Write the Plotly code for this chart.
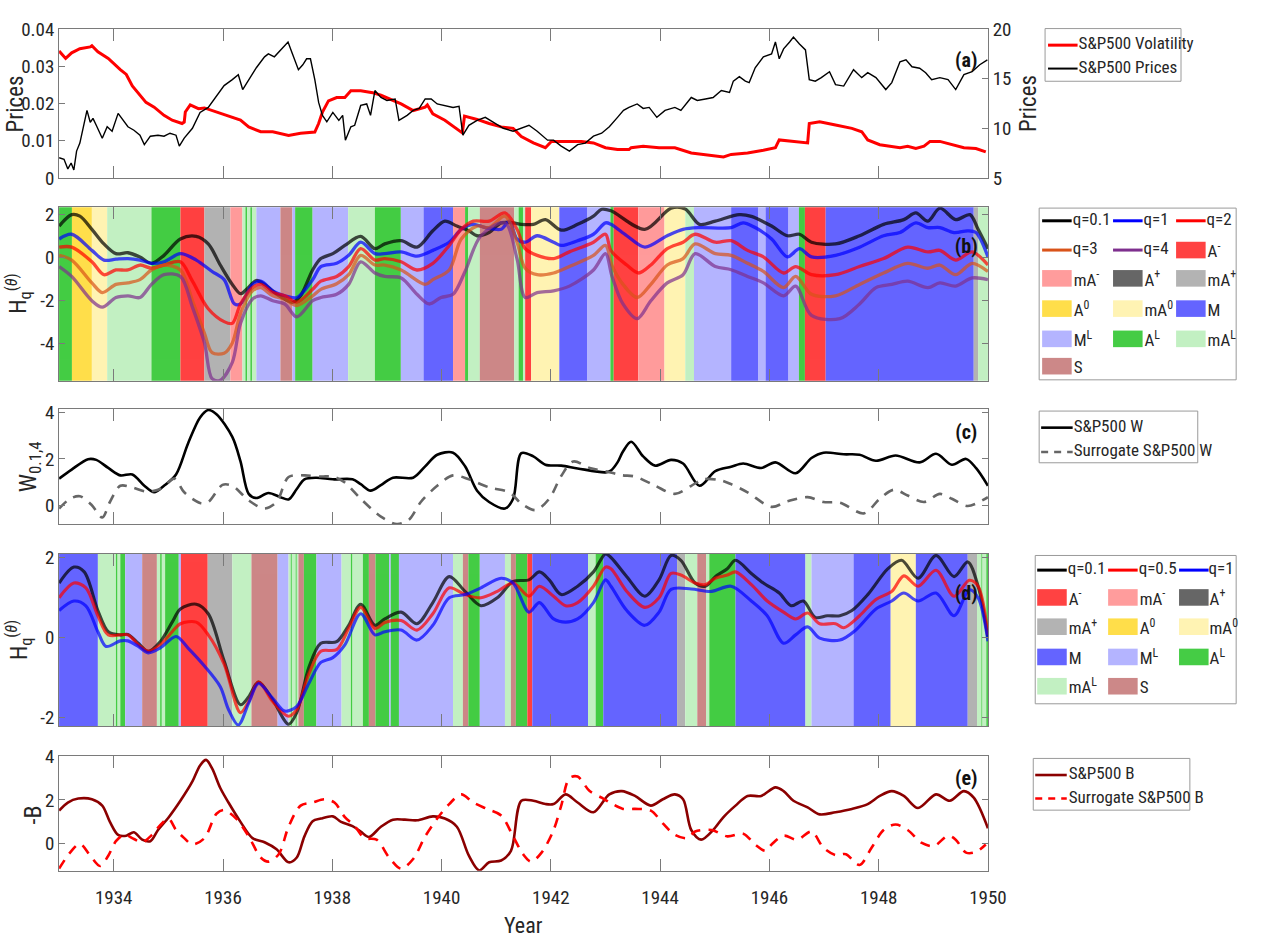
import plotly.graph_objects as go

# ---------------------------------------------------------------- data
# (a) S&P500 volatility (left axis) and prices (right axis)
vol_year = [1933.00, 1933.12, 1933.23, 1933.38, 1933.57, 1933.60, 1933.71, 1933.90, 1934.12, 1934.23,
            1934.34, 1934.48, 1934.59, 1934.74, 1934.92, 1935.07, 1935.25, 1935.29, 1935.31, 1935.40,
            1935.55, 1935.66, 1935.88, 1936.10, 1936.32, 1936.47, 1936.69, 1936.91, 1937.20, 1937.42,
            1937.68, 1937.75, 1937.82, 1937.93, 1938.08, 1938.23, 1938.34, 1938.52, 1938.74, 1938.89,
            1939.04, 1939.26, 1939.48, 1939.70, 1939.74, 1939.84, 1940.06, 1940.38, 1940.42, 1940.65,
            1940.87, 1941.09, 1941.31, 1941.46, 1941.68, 1941.90, 1942.01, 1942.19, 1942.56, 1942.78,
            1943.00, 1943.22, 1943.43, 1943.47, 1943.69, 1943.98, 1944.27, 1944.57, 1944.86, 1945.16,
            1945.30, 1945.60, 1945.89, 1946.11, 1946.18, 1946.40, 1946.70, 1946.73, 1946.92, 1947.21,
            1947.51, 1947.69, 1947.80, 1948.02, 1948.17, 1948.39, 1948.53, 1948.68, 1948.83, 1948.94,
            1949.12, 1949.34, 1949.56, 1949.78, 1949.96]
vol_val = [0.0341, 0.0321, 0.0336, 0.0347, 0.0352, 0.0355, 0.0339, 0.0321, 0.0291, 0.0278,
           0.0247, 0.0222, 0.0203, 0.0190, 0.0168, 0.0155, 0.0146, 0.0150, 0.0177, 0.0196,
           0.0186, 0.0188, 0.0177, 0.0168, 0.0155, 0.0137, 0.0124, 0.0124, 0.0114, 0.0120,
           0.0123, 0.0146, 0.0177, 0.0207, 0.0216, 0.0216, 0.0234, 0.0234, 0.0229, 0.0222,
           0.0212, 0.0199, 0.0181, 0.0190, 0.0196, 0.0172, 0.0155, 0.0121, 0.0166, 0.0157,
           0.0146, 0.0137, 0.0133, 0.0111, 0.0094, 0.0081, 0.0098, 0.0098, 0.0098, 0.0094,
           0.0081, 0.0076, 0.0076, 0.0081, 0.0085, 0.0081, 0.0081, 0.0067, 0.0061, 0.0056,
           0.0063, 0.0067, 0.0074, 0.0081, 0.0102, 0.0098, 0.0094, 0.0146, 0.0151, 0.0142,
           0.0133, 0.0124, 0.0102, 0.0089, 0.0085, 0.0081, 0.0085, 0.0079, 0.0085, 0.0098,
           0.0098, 0.0089, 0.0081, 0.0079, 0.0070]

price_year = [1933.00, 1933.09, 1933.16, 1933.22, 1933.27, 1933.32, 1933.38, 1933.46, 1933.51, 1933.57,
              1933.62, 1933.68, 1933.79, 1933.88, 1933.97, 1934.08, 1934.15, 1934.26, 1934.37, 1934.48,
              1934.56, 1934.67, 1934.81, 1934.92, 1935.03, 1935.14, 1935.20, 1935.29, 1935.44, 1935.58,
              1935.73, 1935.88, 1936.02, 1936.17, 1936.28, 1936.36, 1936.50, 1936.61, 1936.76, 1936.83,
              1936.94, 1937.05, 1937.19, 1937.27, 1937.38, 1937.46, 1937.53, 1937.60, 1937.68, 1937.75,
              1937.82, 1937.90, 1938.01, 1938.12, 1938.19, 1938.24, 1938.34, 1938.41, 1938.52, 1938.63,
              1938.70, 1938.78, 1938.89, 1939.00, 1939.15, 1939.22, 1939.37, 1939.48, 1939.59, 1939.70,
              1939.81, 1939.92, 1940.06, 1940.21, 1940.32, 1940.39, 1940.50, 1940.65, 1940.80, 1940.94,
              1941.13, 1941.31, 1941.46, 1941.60, 1941.75, 1941.94, 1942.05, 1942.19, 1942.34, 1942.49,
              1942.63, 1942.78, 1942.93, 1943.07, 1943.22, 1943.33, 1943.43, 1943.58, 1943.69, 1943.80,
              1943.94, 1944.09, 1944.27, 1944.38, 1944.57, 1944.68, 1944.83, 1944.97, 1945.12, 1945.27,
              1945.34, 1945.45, 1945.56, 1945.63, 1945.74, 1945.89, 1946.04, 1946.11, 1946.18, 1946.26,
              1946.37, 1946.44, 1946.55, 1946.66, 1946.73, 1946.84, 1946.95, 1947.10, 1947.21, 1947.36,
              1947.54, 1947.69, 1947.80, 1947.95, 1948.13, 1948.24, 1948.39, 1948.50, 1948.61, 1948.75,
              1948.86, 1948.97, 1949.12, 1949.27, 1949.41, 1949.56, 1949.71, 1949.85, 1949.99]
price_val = [7.03, 6.87, 5.90, 6.50, 5.80, 7.70, 8.50, 10.65, 11.80, 10.60,
             11.00, 10.30, 9.00, 10.15, 9.70, 11.50, 11.00, 10.15, 9.80, 9.30,
             8.35, 9.20, 9.30, 9.20, 9.50, 9.30, 8.20, 9.00, 10.00, 11.60,
             12.10, 13.30, 14.30, 14.90, 15.40, 13.90, 15.10, 16.10, 17.20, 17.50,
             17.20, 17.90, 18.70, 17.50, 15.90, 16.40, 17.00, 17.00, 14.90, 12.60,
             11.30, 10.65, 11.60, 10.80, 11.30, 8.80, 10.15, 10.30, 12.30, 12.45,
             11.30, 13.80, 13.10, 12.80, 12.95, 10.80, 11.30, 11.80, 12.00, 12.95,
             12.95, 12.45, 12.30, 12.10, 12.20, 9.30, 10.30, 10.80, 11.10, 10.65,
             10.00, 9.70, 10.00, 10.30, 9.70, 8.80, 8.80, 8.20, 7.70, 8.35,
             8.50, 9.20, 9.50, 10.15, 11.10, 11.80, 12.10, 12.45, 12.00, 12.10,
             11.10, 11.80, 12.10, 11.80, 13.10, 12.80, 12.95, 13.10, 13.80, 13.60,
             14.75, 15.20, 14.75, 14.60, 16.10, 17.20, 17.50, 18.70, 17.00, 18.00,
             18.70, 19.20, 18.50, 17.90, 14.90, 14.75, 15.10, 15.70, 14.40, 14.25,
             15.90, 15.10, 15.60, 15.10, 13.90, 14.60, 16.70, 16.90, 16.20, 16.05,
             15.60, 14.90, 15.10, 14.90, 13.90, 15.40, 15.70, 16.40, 16.90]

# (b) generalised Hurst exponents of the prices
hb01_year = [1933.00, 1933.23, 1933.38, 1933.60, 1933.82, 1934.04, 1934.26, 1934.48, 1934.69, 1934.92,
             1935.22, 1935.51, 1935.73, 1935.95, 1936.17, 1936.32, 1936.43, 1936.61, 1936.76, 1936.98,
             1937.13, 1937.27, 1937.42, 1937.64, 1937.79, 1938.01, 1938.23, 1938.52, 1938.78, 1938.96,
             1939.26, 1939.55, 1939.84, 1940.06, 1940.28, 1940.50, 1940.65, 1940.87, 1941.09, 1941.31,
             1941.46, 1941.68, 1941.90, 1942.19, 1942.49, 1942.78, 1942.93, 1943.10, 1943.72, 1944.20,
             1944.46, 1944.72, 1945.01, 1945.45, 1945.67, 1946.04, 1946.33, 1946.55, 1946.77, 1947.21,
             1947.65, 1948.09, 1948.46, 1948.68, 1948.90, 1949.12, 1949.41, 1949.67, 1949.82, 1950.00]
hb01_val = [1.44, 1.97, 1.90, 1.29, 0.61, 0.16, 0.20, 0.00, -0.29, 0.08,
            0.84, 0.96, 0.61, -0.37, -1.27, -1.70, -1.50, -1.09, -1.27, -1.72,
            -1.95, -2.10, -1.80, -0.60, -0.07, 0.16, 0.54, 0.96, 0.39, 0.61,
            0.76, 0.46, 1.22, 1.67, 1.44, 1.22, 0.99, 1.14, 1.59, 1.59,
            1.52, 1.52, 1.74, 1.25, 1.52, 1.90, 2.22, 2.15, 1.29, 2.27,
            2.23, 1.52, 1.67, 1.97, 1.89, 1.44, 0.99, 1.06, 0.69, 0.61,
            0.99, 1.52, 1.74, 2.05, 1.67, 2.27, 1.74, 1.97, 1.29, 0.39]

hb1_year = [1933.00, 1933.23, 1933.60, 1933.82, 1934.04, 1934.26, 1934.48, 1934.69, 1934.92, 1935.22,
            1935.51, 1935.80, 1936.02, 1936.21, 1936.32, 1936.54, 1936.69, 1936.91, 1937.13, 1937.35,
            1937.64, 1937.79, 1938.08, 1938.30, 1938.52, 1938.78, 1938.96, 1939.26, 1939.55, 1939.84,
            1940.14, 1940.36, 1940.58, 1940.80, 1941.09, 1941.24, 1941.38, 1941.53, 1941.75, 1942.05,
            1942.19, 1942.49, 1942.78, 1943.00, 1943.10, 1943.39, 1943.72, 1944.13, 1944.42, 1944.72,
            1945.30, 1945.52, 1945.74, 1946.04, 1946.33, 1946.55, 1946.77, 1947.21, 1947.65, 1948.09,
            1948.39, 1948.68, 1948.90, 1949.12, 1949.38, 1949.63, 1949.78, 1950.00]
hb1_val = [0.84, 1.06, 0.31, -0.14, -0.10, -0.07, -0.14, -0.29, -0.22, 0.16,
           -0.14, -0.67, -1.05, -2.18, -2.18, -1.27, -1.12, -1.57, -1.80, -1.88,
           -1.05, -0.44, -0.29, 0.08, 0.69, 0.16, 0.16, 0.24, 0.04, 0.31,
           0.69, 1.29, 1.52, 1.37, 1.29, 1.67, 0.84, 0.69, 0.99, 0.69,
           0.54, 0.76, 1.06, 1.59, 1.52, 0.99, 0.46, 0.99, 1.29, 1.37,
           1.37, 1.59, 1.37, 0.84, 0.01, 0.39, 0.01, 0.08, 0.46, 0.99,
           1.14, 1.59, 1.37, 1.37, 1.14, 1.22, 1.14, 0.01]

hb2_year = [1933.00, 1933.23, 1933.60, 1933.82, 1934.04, 1934.26, 1934.48, 1934.69, 1934.92, 1935.22,
            1935.44, 1935.73, 1936.02, 1936.17, 1936.32, 1936.54, 1936.69, 1936.91, 1937.13, 1937.35,
            1937.64, 1937.79, 1938.08, 1938.30, 1938.52, 1938.78, 1938.96, 1939.26, 1939.55, 1939.84,
            1940.14, 1940.36, 1940.58, 1940.87, 1941.16, 1941.38, 1941.53, 1941.75, 1942.05, 1942.34,
            1942.78, 1943.00, 1943.10, 1943.39, 1943.61, 1943.83, 1944.13, 1944.42, 1944.64, 1945.01,
            1945.30, 1945.60, 1945.89, 1946.26, 1946.48, 1946.77, 1947.21, 1947.65, 1948.09, 1948.53,
            1948.90, 1949.12, 1949.41, 1949.71, 1950.00]
hb2_val = [0.46, 0.46, -0.22, -0.82, -0.60, -0.60, -0.37, -0.52, -0.37, -0.22,
           -1.12, -2.40, -3.00, -3.08, -2.18, -1.42, -1.27, -1.65, -1.80, -2.10,
           -1.50, -1.12, -0.90, -0.44, 0.39, -0.14, -0.07, -0.22, -0.60, -0.29,
           0.54, 1.29, 1.67, 1.67, 2.05, 1.29, 0.39, 0.08, -0.07, 0.24,
           0.69, 1.06, 0.30, -0.37, -0.74, -0.37, 0.39, 0.69, 1.06, 0.69,
           0.76, 0.31, 0.01, -0.74, -0.44, -0.82, -0.82, -0.44, -0.07, 0.46,
           0.24, 0.31, -0.14, 0.24, -0.37]

hb3_year = [1933.00, 1933.23, 1933.60, 1933.79, 1934.04, 1934.26, 1934.48, 1934.69, 1934.92, 1935.22,
            1935.44, 1935.66, 1935.80, 1936.02, 1936.17, 1936.32, 1936.54, 1936.69, 1936.91, 1937.13,
            1937.35, 1937.64, 1937.79, 1938.08, 1938.30, 1938.52, 1938.78, 1938.96, 1939.26, 1939.70,
            1939.84, 1940.14, 1940.36, 1940.65, 1940.87, 1941.16, 1941.38, 1941.53, 1941.75, 1942.05,
            1942.34, 1942.78, 1943.00, 1943.12, 1943.32, 1943.58, 1943.83, 1944.13, 1944.42, 1944.64,
            1945.01, 1945.30, 1945.60, 1945.89, 1946.26, 1946.48, 1946.77, 1947.21, 1947.65, 1948.09,
            1948.53, 1948.90, 1949.12, 1949.41, 1949.71, 1950.00]
hb3_val = [0.08, -0.14, -1.20, -1.65, -1.27, -1.20, -1.05, -0.60, -0.37, -0.60,
           -2.03, -3.54, -4.44, -4.47, -3.99, -2.63, -1.57, -1.42, -1.80, -1.95,
           -2.25, -1.80, -1.50, -1.24, -0.82, 0.08, -0.37, -0.37, -0.60, -1.27,
           -1.05, -0.60, 0.84, 1.44, 1.37, 1.90, 0.69, -0.52, -0.82, -0.74,
           -0.44, 0.08, 0.54, -0.40, -1.27, -1.88, -1.27, -0.37, -0.07, 0.61,
           0.16, 0.08, -0.29, -0.67, -1.42, -0.90, -1.73, -1.80, -1.27, -0.74,
           -0.29, -0.52, -0.37, -0.82, -0.29, -0.67]

hb4_year = [1933.00, 1933.23, 1933.60, 1933.79, 1934.04, 1934.26, 1934.48, 1934.69, 1934.92, 1935.22,
            1935.44, 1935.66, 1935.80, 1935.95, 1936.17, 1936.32, 1936.54, 1936.69, 1936.91, 1937.13,
            1937.35, 1937.64, 1937.79, 1938.08, 1938.30, 1938.52, 1938.78, 1938.96, 1939.26, 1939.55,
            1939.77, 1939.99, 1940.21, 1940.43, 1940.72, 1941.16, 1941.38, 1941.53, 1941.75, 1942.05,
            1942.34, 1942.78, 1943.00, 1943.12, 1943.32, 1943.58, 1943.83, 1944.13, 1944.42, 1944.64,
            1945.01, 1945.30, 1945.60, 1945.89, 1946.26, 1946.48, 1946.77, 1947.29, 1947.65, 1947.95,
            1948.24, 1948.53, 1948.90, 1949.12, 1949.41, 1949.71, 1950.00]
hb4_val = [-0.44, -0.90, -2.03, -2.33, -1.88, -1.80, -1.88, -1.27, -0.82, -0.90,
           -2.33, -3.99, -5.65, -5.72, -4.89, -3.08, -1.95, -1.80, -2.03, -2.18,
           -2.78, -2.03, -1.88, -1.73, -1.27, -0.22, -0.74, -0.90, -0.97, -1.73,
           -2.18, -1.88, -1.73, -0.67, 0.99, 1.59, -0.07, -1.88, -1.65, -1.57,
           -1.35, -0.60, 0.16, -0.90, -2.18, -2.86, -2.03, -1.20, -0.82, 0.16,
           -0.44, -0.59, -0.90, -1.20, -1.80, -1.35, -2.71, -2.86, -2.18, -1.42,
           -1.27, -1.12, -1.42, -1.20, -1.35, -0.97, -1.05]

# (b) market-state segments
b_seg_start = [1933.00, 1933.235, 1933.60, 1933.88, 1934.69, 1935.22, 1935.66, 1936.135, 1936.355, 1936.41,
               1936.44, 1936.50, 1936.53, 1936.61, 1937.05, 1937.27, 1937.32, 1937.64, 1938.29, 1938.78,
               1939.255, 1939.67, 1940.21, 1940.43, 1940.49, 1940.70, 1941.33, 1941.41, 1941.49, 1941.53,
               1941.64, 1942.155, 1942.67, 1943.09, 1943.15, 1943.60, 1944.08, 1944.46, 1944.62, 1945.30,
               1945.80, 1945.93, 1946.35, 1946.54, 1946.65, 1947.03, 1949.74, 1949.82]
b_seg_end = b_seg_start[1:] + [1950.00]
b_seg_state = ['AL', 'A0', 'mA0', 'mAL', 'AL', 'A-', 'mA+', 'mA-', 'mAL', 'AL',
               'mAL', 'AL', 'mAL', 'ML', 'S', 'ML', 'AL', 'ML', 'mAL', 'AL',
               'ML', 'M', 'mA-', 'AL', 'mAL', 'S', 'mAL', 'AL', 'mAL', 'A-',
               'mA0', 'M', 'ML', 'AL', 'A-', 'mA-', 'mA0', 'mAL', 'ML', 'M',
               'ML', 'M', 'ML', 'AL', 'A-', 'M', 'mA+', 'mAL']

# (c) W statistic and its surrogate
w_year = [1933.00, 1933.23, 1933.53, 1933.68, 1933.90, 1934.12, 1934.34, 1934.56, 1934.74, 1934.92,
          1935.14, 1935.36, 1935.58, 1935.73, 1935.88, 1936.17, 1936.32, 1936.47, 1936.61, 1936.83,
          1937.05, 1937.20, 1937.35, 1937.49, 1937.71, 1938.01, 1938.37, 1938.52, 1938.70, 1938.89,
          1939.11, 1939.48, 1939.70, 1939.92, 1940.21, 1940.43, 1940.65, 1940.87, 1941.16, 1941.31,
          1941.46, 1941.68, 1941.90, 1942.19, 1942.49, 1943.00, 1943.10, 1943.22, 1943.32, 1943.47,
          1943.69, 1943.91, 1944.20, 1944.42, 1944.72, 1945.01, 1945.30, 1945.52, 1945.85, 1946.11,
          1946.48, 1946.77, 1946.99, 1947.36, 1947.65, 1947.95, 1948.31, 1948.75, 1949.05, 1949.34,
          1949.60, 1949.78, 1950.00]
w_val = [1.15, 1.54, 1.99, 1.96, 1.61, 1.29, 1.33, 0.84, 0.56, 0.84,
         1.33, 2.67, 3.79, 4.11, 3.93, 2.95, 1.89, 0.49, 0.31, 0.53,
         0.35, 0.25, 0.70, 1.12, 1.19, 1.12, 1.12, 0.91, 0.63, 0.87,
         1.19, 1.19, 1.68, 2.18, 2.27, 1.68, 0.63, 0.14, -0.14, 0.28,
         2.25, 2.11, 1.75, 1.71, 1.59, 1.42, 1.50, 1.85, 2.32, 2.74,
         2.11, 1.71, 1.96, 1.80, 0.84, 1.47, 1.66, 1.80, 1.61, 1.85,
         1.38, 2.04, 2.27, 2.20, 2.18, 1.92, 2.15, 1.85, 2.22, 1.75,
         2.00, 1.61, 0.84]

w_sur_year = [1933.00, 1933.20, 1933.38, 1933.60, 1933.79, 1933.93, 1934.12, 1934.34, 1934.59, 1934.85,
              1935.11, 1935.29, 1935.58, 1935.73, 1935.99, 1936.17, 1936.47, 1936.76, 1936.98, 1937.20,
              1937.49, 1937.79, 1938.01, 1938.23, 1938.52, 1938.89, 1939.18, 1939.40, 1939.62, 1939.92,
              1940.21, 1940.50, 1940.87, 1941.24, 1941.46, 1941.72, 1941.97, 1942.19, 1942.41, 1942.71,
              1943.00, 1943.29, 1943.54, 1943.91, 1944.27, 1944.57, 1944.79, 1945.08, 1945.30, 1945.60,
              1946.04, 1946.33, 1946.70, 1946.99, 1947.29, 1947.73, 1948.02, 1948.28, 1948.53, 1948.83,
              1949.12, 1949.34, 1949.63, 1950.00]
w_sur_val = [-0.14, 0.28, 0.39, 0.00, -0.53, 0.14, 0.84, 0.77, 0.59, 0.70,
             1.15, 0.56, 0.10, 0.14, 0.88, 0.84, 0.21, -0.14, 0.14, 1.22,
             1.29, 1.24, 1.24, 0.98, 0.28, -0.49, -0.81, -0.63, 0.14, 0.84,
             1.29, 1.12, 0.77, 0.56, 0.07, -0.21, 0.28, 1.26, 1.89, 1.61,
             1.47, 1.30, 1.24, 0.84, 0.49, 0.84, 1.12, 1.09, 0.91, 0.56,
             -0.07, 0.17, 0.35, 0.14, 0.11, -0.35, 0.28, 0.67, 0.42, 0.14,
             0.49, 0.28, -0.03, 0.35]

# (d) generalised Hurst exponents of the volatility
hd01_year = [1933.00, 1933.27, 1933.46, 1933.71, 1933.90, 1934.12, 1934.26, 1934.45, 1934.63, 1934.85,
             1935.07, 1935.22, 1935.51, 1935.73, 1936.02, 1936.32, 1936.47, 1936.65, 1936.91, 1937.20,
             1937.35, 1937.57, 1937.79, 1938.08, 1938.30, 1938.52, 1938.78, 1938.96, 1939.26, 1939.55,
             1939.84, 1940.14, 1940.43, 1940.72, 1941.02, 1941.31, 1941.60, 1941.79, 1941.97, 1942.19,
             1942.49, 1942.78, 1943.00, 1943.10, 1943.39, 1943.72, 1943.98, 1944.20, 1944.38, 1944.64,
             1944.83, 1945.01, 1945.23, 1945.38, 1945.67, 1945.89, 1946.18, 1946.40, 1946.62, 1946.84,
             1947.06, 1947.29, 1947.51, 1947.80, 1948.17, 1948.42, 1948.72, 1949.05, 1949.38, 1949.63,
             1949.82, 1950.00]
hd01_val = [1.36, 1.76, 1.64, 0.67, 0.14, 0.06, 0.07, -0.15, -0.35, -0.11,
            0.38, 0.71, 0.83, 0.59, -0.59, -1.69, -1.49, -1.12, -1.57, -2.18,
            -1.89, -0.76, -0.15, -0.11, 0.30, 0.83, 0.30, 0.46, 0.63, 0.34,
            0.87, 1.52, 1.15, 0.79, 0.99, 1.40, 1.44, 1.64, 1.44, 1.07,
            1.28, 1.64, 2.09, 2.00, 1.52, 1.03, 1.44, 2.05, 1.93, 1.36,
            1.28, 1.52, 1.72, 1.93, 1.60, 1.36, 1.11, 0.79, 0.91, 0.50,
            0.54, 0.54, 0.67, 1.07, 1.72, 1.93, 1.48, 2.05, 1.52, 1.89,
            1.28, -0.02]

hd05_year = [1933.00, 1933.27, 1933.49, 1933.71, 1933.90, 1934.26, 1934.45, 1934.63, 1934.85, 1935.07,
             1935.22, 1935.51, 1935.73, 1936.02, 1936.32, 1936.47, 1936.65, 1936.91, 1937.20, 1937.35,
             1937.57, 1937.79, 1938.08, 1938.30, 1938.52, 1938.78, 1938.96, 1939.26, 1939.55, 1939.84,
             1940.14, 1940.43, 1940.72, 1941.02, 1941.31, 1941.60, 1941.79, 1942.05, 1942.27, 1942.49,
             1942.78, 1943.00, 1943.10, 1943.39, 1943.72, 1943.98, 1944.20, 1944.38, 1944.64, 1944.83,
             1945.01, 1945.23, 1945.38, 1945.67, 1945.96, 1946.26, 1946.48, 1946.70, 1946.92, 1947.21,
             1947.36, 1947.65, 1947.95, 1948.24, 1948.46, 1948.72, 1949.05, 1949.38, 1949.66, 1949.82,
             1950.00]
hd05_val = [0.99, 1.36, 1.24, 0.54, 0.06, 0.06, -0.19, -0.35, -0.19, 0.14,
            0.34, 0.38, 0.06, -0.67, -1.89, -1.61, -1.12, -1.61, -1.98, -1.81,
            -0.92, -0.35, -0.31, 0.22, 0.75, 0.22, 0.37, 0.42, 0.18, 0.59,
            1.24, 1.07, 0.99, 1.15, 1.36, 1.03, 1.28, 1.03, 0.79, 0.87,
            1.28, 1.76, 1.72, 1.15, 0.75, 0.99, 1.60, 1.56, 1.36, 1.32,
            1.48, 1.56, 1.64, 1.32, 0.91, 0.63, 0.46, 0.61, 0.34, 0.34,
            0.24, 0.54, 0.95, 1.15, 1.54, 1.28, 1.68, 1.03, 1.43, 1.28,
            0.06]

hd1_year = [1933.00, 1933.27, 1933.49, 1933.71, 1933.86, 1934.12, 1934.26, 1934.45, 1934.63, 1934.85,
            1935.14, 1935.36, 1935.66, 1935.95, 1936.10, 1936.28, 1936.47, 1936.65, 1936.91, 1937.13,
            1937.35, 1937.57, 1937.79, 1938.01, 1938.23, 1938.52, 1938.78, 1938.96, 1939.26, 1939.55,
            1939.84, 1940.14, 1940.43, 1940.72, 1941.09, 1941.31, 1941.60, 1941.79, 1942.05, 1942.27,
            1942.49, 1942.78, 1943.00, 1943.10, 1943.39, 1943.72, 1943.98, 1944.20, 1944.57, 1944.94,
            1945.30, 1945.67, 1945.96, 1946.26, 1946.48, 1946.70, 1946.92, 1947.29, 1947.58, 1947.95,
            1948.24, 1948.46, 1948.72, 1949.05, 1949.38, 1949.66, 1949.82, 1950.00]
hd1_val = [0.67, 0.91, 0.79, 0.14, -0.23, -0.09, -0.09, -0.23, -0.39, -0.27,
           0.02, -0.27, -0.72, -1.24, -1.81, -2.20, -1.65, -1.16, -1.53, -1.85,
           -1.73, -1.16, -0.63, -0.51, -0.19, 0.59, 0.06, 0.14, 0.18, -0.07,
           0.30, 0.99, 1.07, 1.24, 1.48, 1.36, 0.63, 0.87, 0.46, 0.38,
           0.46, 0.87, 1.44, 1.28, 0.67, 0.30, 0.63, 1.20, 1.21, 1.15,
           1.28, 0.91, 0.54, -0.15, 0.06, 0.26, -0.02, -0.07, 0.18, 0.71,
           0.91, 1.11, 0.91, 1.11, 0.54, 1.19, 0.99, -0.10]

# (d) market-state segments
d_seg_start = [1933.00, 1933.71, 1934.04, 1934.07, 1934.12, 1934.21, 1934.52, 1934.79, 1934.85, 1934.88,
               1934.94, 1935.19, 1935.23, 1935.72, 1936.17, 1936.52, 1937.00, 1937.20, 1937.24, 1937.26,
               1937.33, 1937.35, 1937.38, 1937.48, 1937.71, 1938.17, 1938.34, 1938.37, 1938.56, 1938.67,
               1938.79, 1939.04, 1939.07, 1939.22, 1940.21, 1940.39, 1940.49, 1940.70, 1941.16, 1941.27,
               1941.36, 1941.57, 1941.66, 1942.68, 1942.82, 1942.96, 1944.31, 1944.46, 1944.68, 1944.84,
               1944.90, 1945.38, 1946.66, 1946.77, 1947.54, 1948.22, 1948.68, 1949.63, 1949.80, 1949.88,
               1949.90, 1949.97]
d_seg_end = d_seg_start[1:] + [1950.00]
d_seg_state = ['M', 'mAL', 'AL', 'mAL', 'AL', 'ML', 'S', 'mAL', 'AL', 'mAL',
               'AL', 'ML', 'A-', 'mA+', 'mAL', 'S', 'ML', 'mAL', 'AL', 'mAL',
               'AL', 'mAL', 'S', 'AL', 'ML', 'mAL', 'AL', 'mAL', 'AL', 'S',
               'AL', 'ML', 'AL', 'ML', 'mAL', 'S', 'AL', 'ML', 'mAL', 'S',
               'AL', 'A-', 'M', 'mAL', 'AL', 'M', 'mA+', 'mAL', 'S', 'mAL',
               'AL', 'M', 'mAL', 'ML', 'M', 'mA0', 'M', 'mA+', 'mAL', 'AL',
               'mAL', 'AL']

# (e) -B statistic and its surrogate
b_year = [1933.00, 1933.16, 1933.35, 1933.60, 1933.79, 1933.93, 1934.08, 1934.23, 1934.37, 1934.52,
          1934.67, 1934.81, 1935.00, 1935.22, 1935.44, 1935.58, 1935.69, 1935.80, 1935.95, 1936.10,
          1936.32, 1936.54, 1936.76, 1936.98, 1937.20, 1937.35, 1937.49, 1937.64, 1937.79, 1938.01,
          1938.16, 1938.37, 1938.52, 1938.67, 1938.89, 1939.11, 1939.33, 1939.55, 1939.84, 1940.06,
          1940.28, 1940.50, 1940.69, 1940.87, 1941.09, 1941.27, 1941.46, 1941.68, 1941.90, 1942.05,
          1942.27, 1942.49, 1942.78, 1943.07, 1943.30, 1943.54, 1943.83, 1944.05, 1944.27, 1944.42,
          1944.57, 1944.75, 1944.97, 1945.16, 1945.38, 1945.60, 1945.85, 1946.11, 1946.26, 1946.44,
          1946.70, 1946.92, 1947.21, 1947.51, 1947.80, 1948.02, 1948.24, 1948.46, 1948.72, 1949.05,
          1949.30, 1949.56, 1949.74, 1950.00]
b_val = [1.51, 1.88, 2.06, 2.03, 1.74, 1.00, 0.41, 0.37, 0.53, 0.19,
         0.12, 0.63, 1.19, 1.96, 2.84, 3.57, 3.82, 3.43, 2.54, 1.88,
         1.00, 0.26, 0.07, -0.25, -0.84, -0.62, 0.34, 1.03, 1.15, 1.25,
         1.00, 0.81, 0.56, 0.31, 0.78, 1.10, 1.10, 1.07, 1.25, 1.15,
         0.78, -0.54, -1.21, -0.84, -0.76, -0.32, 1.96, 1.96, 1.81, 1.81,
         2.25, 1.88, 1.44, 2.25, 2.40, 2.18, 1.74, 2.03, 2.25, 2.03,
         0.63, 0.19, 0.63, 1.22, 1.74, 2.18, 2.18, 2.57, 2.40, 1.96,
         1.66, 1.34, 1.44, 1.59, 1.81, 2.18, 2.40, 2.18, 1.63, 2.25,
         1.96, 2.40, 2.10, 0.71]

b_sur_year = [1933.00, 1933.20, 1933.38, 1933.57, 1933.75, 1933.90, 1934.04, 1934.19, 1934.37, 1934.52,
              1934.70, 1934.85, 1935.00, 1935.14, 1935.29, 1935.44, 1935.66, 1935.88, 1936.02, 1936.24,
              1936.47, 1936.69, 1936.83, 1937.02, 1937.20, 1937.42, 1937.64, 1937.86, 1938.04, 1938.23,
              1938.41, 1938.59, 1938.81, 1939.04, 1939.26, 1939.48, 1939.70, 1939.92, 1940.14, 1940.36,
              1940.58, 1940.83, 1941.09, 1941.31, 1941.49, 1941.64, 1941.83, 1942.05, 1942.19, 1942.34,
              1942.49, 1942.71, 1942.93, 1943.10, 1943.32, 1943.54, 1943.83, 1944.05, 1944.27, 1944.50,
              1944.64, 1944.94, 1945.23, 1945.52, 1945.74, 1945.93, 1946.04, 1946.26, 1946.51, 1946.77,
              1946.99, 1947.21, 1947.40, 1947.65, 1947.87, 1948.09, 1948.31, 1948.53, 1948.79, 1949.01,
              1949.27, 1949.41, 1949.60, 1949.78, 1949.96]
b_sur_val = [-1.13, -0.40, 0.00, -0.54, -1.01, -0.54, 0.12, 0.41, 0.22, 0.07,
             0.41, 0.85, 1.15, 0.63, 0.26, -0.03, 0.26, 1.37, 1.54, 1.15,
             0.34, -0.62, -0.81, -0.47, 0.78, 1.74, 1.88, 2.03, 1.88, 1.22,
             0.81, 0.26, 0.19, -0.62, -1.13, -0.69, 0.34, 1.15, 1.81, 2.25,
             1.88, 1.59, 1.29, 0.34, -0.47, -0.81, -0.40, 0.63, 1.74, 2.99,
             3.06, 2.40, 2.10, 1.85, 1.59, 1.59, 1.51, 0.93, 0.41, 0.26,
             0.56, 0.63, 0.34, 0.46, -0.03, -0.32, -0.03, 0.37, 0.19, 0.56,
             -0.18, -0.51, -0.47, -0.96, -0.18, 0.63, 0.88, 0.63, 0.04, -0.10,
             0.37, 0.19, -0.40, -0.37, -0.03]

year_ticks = [1934, 1936, 1938, 1940, 1942, 1944, 1946, 1948, 1950]

# ---------------------------------------------------------------- styling
W, H = 1266, 949
FONT = ("'Liberation Sans Narrow', 'Roboto Condensed', 'Noto Sans Condensed', "
        "'Liberation Sans', Arial, sans-serif")
TXT = "#262626"
AXC = "#7a7a7a"

STATE_COLOR = {
    'A-': '#FF4242', 'mA-': '#FF9C9C', 'A+': '#666666', 'mA+': '#B3B3B3',
    'A0': '#FFDE4A', 'mA0': '#FFF3B3', 'M': '#6464FF', 'ML': '#B4B4FF',
    'AL': '#45CC45', 'mAL': '#C2F0C2', 'S': '#CC8888',
}
STATE_LABEL = {
    'A-': 'A<sup>-</sup>', 'mA-': 'mA<sup>-</sup>', 'A+': 'A<sup>+</sup>', 'mA+': 'mA<sup>+</sup>',
    'A0': 'A<sup>0</sup>', 'mA0': 'mA<sup>0</sup>', 'M': 'M', 'ML': 'M<sup>L</sup>',
    'AL': 'A<sup>L</sup>', 'mAL': 'mA<sup>L</sup>', 'S': 'S',
}
Q_COLOR = {'0.1': '#000000', '0.5': '#FF0000', '1': '#0000FF', '2': '#FF0000',
           '3': '#D95319', '4': '#7E2F8E'}

TICK_SIZE = 19
LEG_SIZE = 17
TAG_SIZE = 20


def pxx(x):
    return x / W


def pxy(y):
    return 1 - y / H


X0, X1 = 60, 1003
PANEL = {1: (18.5, 171), 2: (201, 379), 3: (408, 526), 4: (556, 733), 5: (763, 881)}

fig = go.Figure()


def add_line(x, y, xa, ya, color, width, dash='solid', opacity=1.0, spline=True):
    fig.add_trace(go.Scatter(
        x=x, y=y, xaxis=xa, yaxis=ya, mode='lines', opacity=opacity,
        line=dict(color=color, width=width, dash=dash,
                  shape='spline' if spline else 'linear', smoothing=0.9 if spline else None),
        showlegend=False, hoverinfo='skip'))


# (a)
add_line(vol_year, vol_val, 'x', 'y', '#FF0000', 3.0, spline=False)
add_line(price_year, price_val, 'x', 'y6', '#000000', 1.4, spline=False)

# (b)
for yrs, vals, q in [(hb01_year, hb01_val, '0.1'), (hb1_year, hb1_val, '1'), (hb2_year, hb2_val, '2'),
                     (hb3_year, hb3_val, '3'), (hb4_year, hb4_val, '4')]:
    add_line(yrs, vals, 'x2', 'y2', Q_COLOR[q], 3.3, opacity=0.7)

# (c)
add_line(w_year, w_val, 'x3', 'y3', '#000000', 2.6)
add_line(w_sur_year, w_sur_val, 'x3', 'y3', '#666666', 2.6, dash='10px,8px')

# (d)
for yrs, vals, q in [(hd01_year, hd01_val, '0.1'), (hd05_year, hd05_val, '0.5'), (hd1_year, hd1_val, '1')]:
    add_line(yrs, vals, 'x4', 'y4', Q_COLOR[q], 3.1, opacity=0.7)

# (e)
add_line(b_year, b_val, 'x5', 'y5', '#8B0000', 2.6)
add_line(b_sur_year, b_sur_val, 'x5', 'y5', '#FF0000', 2.6, dash='10px,8px')

shapes = []
annotations = []

# state segments behind the Hurst curves
for starts, ends, states, xa, ya in [(b_seg_start, b_seg_end, b_seg_state, 'x2', 'y2'),
                                     (d_seg_start, d_seg_end, d_seg_state, 'x4', 'y4')]:
    for s0, s1, st in zip(starts, ends, states):
        shapes.append(dict(type='rect', xref=xa, yref=ya + ' domain', x0=s0, x1=s1, y0=0, y1=1,
                           fillcolor=STATE_COLOR[st], line=dict(width=0), layer='below'))

# axes
common_x = dict(range=[1933, 1950], tickvals=year_ticks, ticks='inside', ticklen=12,
                tickcolor=AXC, showline=True, linecolor=AXC, linewidth=1, mirror='ticks',
                showgrid=False, zeroline=False, tickfont=dict(family=FONT, size=TICK_SIZE, color=TXT))
common_y = dict(ticks='inside', ticklen=6, tickcolor=AXC, showline=True, linecolor=AXC,
                linewidth=1, mirror='ticks', showgrid=False, zeroline=False,
                tickfont=dict(family=FONT, size=TICK_SIZE, color=TXT))

layout_axes = {}
y_ranges = {1: [0, 0.04], 2: [-5.75, 2.32], 3: [-0.82, 4.15], 4: [-2.23, 2.1], 5: [-1.22, 4.02]}
y_ticks = {1: ([0, 0.01, 0.02, 0.03, 0.04], ['0', '0.01', '0.02', '0.03', '0.04']),
           2: ([-4, -2, 0, 2], ['-4', '-2', '0', '2']),
           3: ([0, 2, 4], ['0', '2', '4']),
           4: ([-2, 0, 2], ['-2', '0', '2']),
           5: ([0, 2, 4], ['0', '2', '4'])}
for i in range(1, 6):
    top, bot = PANEL[i]
    xn = 'xaxis' if i == 1 else f'xaxis{i}'
    yn = 'yaxis' if i == 1 else f'yaxis{i}'
    ya = 'y' if i == 1 else f'y{i}'
    layout_axes[xn] = dict(common_x, domain=[pxx(X0), pxx(X1)], anchor=ya,
                           showticklabels=(i == 5), ticklabelstandoff=10)
    yd = dict(common_y, domain=[pxy(bot), pxy(top)], anchor='x' if i == 1 else f'x{i}',
              range=y_ranges[i], tickvals=y_ticks[i][0], ticktext=y_ticks[i][1])
    if i == 1:
        yd['mirror'] = True
    layout_axes[yn] = yd

layout_axes['yaxis6'] = dict(common_y, overlaying='y', side='right', anchor='x', range=[5, 20],
                             tickvals=[5, 10, 15, 20], mirror=False)

# full-page pixel frame used for the legends and the panel tags
layout_axes['xaxis7'] = dict(domain=[0, 1], range=[0, W], visible=False, anchor='y7', fixedrange=True)
layout_axes['yaxis7'] = dict(domain=[0, 1], range=[H, 0], visible=False, anchor='x7', fixedrange=True)

# axis titles
for text, x, y, size in [('Prices', 16, 95, 23), ('H<sub>q</sub><sup>(<i>θ</i>)</sup>', 19, 290, 23),
                         ('W<sub>0.1,4</sub>', 30, 467, 24), ('H<sub>q</sub><sup>(<i>θ</i>)</sup>', 19, 645, 23),
                         ('-B', 34, 824, 24), ('Prices', 1044, 95, 23)]:
    annotations.append(dict(text=text, x=pxx(x), y=pxy(y), xref='paper', yref='paper',
                            textangle=-90, showarrow=False, xanchor='center', yanchor='middle',
                            font=dict(family=FONT, size=size, color=TXT)))
annotations.append(dict(text='Year', x=pxx(531), y=pxy(937), xref='paper', yref='paper',
                        showarrow=False, xanchor='center', yanchor='middle',
                        font=dict(family=FONT, size=22, color=TXT)))

# ---------------------------------------------------------------- legends
leg_x, leg_y, leg_txt = [], [], []


def leg_box(x0, y0, x1, y1):
    shapes.append(dict(type='rect', xref='paper', yref='paper', x0=pxx(x0), x1=pxx(x1),
                       y0=pxy(y1), y1=pxy(y0), fillcolor='white',
                       line=dict(color='#9a9a9a', width=1), layer='below'))


def leg_text(x, y, text):
    leg_x.append(x)
    leg_y.append(y)
    leg_txt.append(text)


def leg_line(x0, x1, y, color, width, dash='solid'):
    shapes.append(dict(type='line', xref='paper', yref='paper', x0=pxx(x0), x1=pxx(x1),
                       y0=pxy(y), y1=pxy(y), line=dict(color=color, width=width, dash=dash),
                       layer='above'))


def leg_patch(x0, y, color, w=30, h=17):
    shapes.append(dict(type='rect', xref='paper', yref='paper', x0=pxx(x0), x1=pxx(x0 + w),
                       y0=pxy(y + h / 2), y1=pxy(y - h / 2), fillcolor=color,
                       line=dict(width=0), layer='above'))


def grid_legend(items, cols, rows):
    for k, (kind, c, lab) in enumerate(items):
        r, cidx = divmod(k, 3)
        sx, tx = cols[cidx]
        yy = rows[r]
        if kind == 'line':
            leg_line(sx, sx + 30, yy, c, 3)
            leg_text(tx, yy, lab)
        else:
            leg_patch(sx, yy, STATE_COLOR[c])
            leg_text(tx + 1, yy + 3, STATE_LABEL[c])


# (a)
leg_box(1061, 18, 1199, 72)
leg_line(1064, 1094, 35, '#FF0000', 3)
leg_text(1095, 35, 'S&P500 Volatility')
leg_line(1064, 1094, 59, '#000000', 2)
leg_text(1095, 59, 'S&P500 Prices')

# (b)
leg_box(1055, 202, 1255, 378)
grid_legend([('line', Q_COLOR['0.1'], 'q=0.1'), ('line', Q_COLOR['1'], 'q=1'), ('line', Q_COLOR['2'], 'q=2'),
             ('line', Q_COLOR['3'], 'q=3'), ('line', Q_COLOR['4'], 'q=4'), ('patch', 'A-', None),
             ('patch', 'mA-', None), ('patch', 'A+', None), ('patch', 'mA+', None),
             ('patch', 'A0', None), ('patch', 'mA0', None), ('patch', 'M', None),
             ('patch', 'ML', None), ('patch', 'AL', None), ('patch', 'mAL', None),
             ('patch', 'S', None)],
            [(1058, 1089), (1130, 1161), (1194, 1225)],
            [215, 245, 274, 305, 336, 364])

# (c)
leg_box(1055, 410, 1216, 463)
leg_line(1057, 1089, 427, '#000000', 2.6)
leg_text(1090, 427, 'S&P500 W')
leg_line(1057, 1089, 452, '#666666', 2.6, dash='7px,6px')
leg_text(1090, 452, 'Surrogate S&P500 W')

# (d)
leg_box(1051, 558, 1255, 710)
grid_legend([('line', Q_COLOR['0.1'], 'q=0.1'), ('line', Q_COLOR['0.5'], 'q=0.5'), ('line', Q_COLOR['1'], 'q=1'),
             ('patch', 'A-', None), ('patch', 'mA-', None), ('patch', 'A+', None),
             ('patch', 'mA+', None), ('patch', 'A0', None), ('patch', 'mA0', None),
             ('patch', 'M', None), ('patch', 'ML', None), ('patch', 'AL', None),
             ('patch', 'mAL', None), ('patch', 'S', None)],
            [(1053, 1084), (1125, 1156), (1197, 1227)],
            [573, 601, 631, 662, 692])

# (e)
leg_box(1049, 766, 1208, 819)
leg_line(1051, 1083, 783, '#8B0000', 2.6)
leg_text(1085, 783, 'S&P500 B')
leg_line(1051, 1083, 807, '#FF0000', 2.6, dash='7px,6px')
leg_text(1085, 807, 'Surrogate S&P500 B')

fig.add_trace(go.Scatter(
    x=leg_x, y=leg_y, text=leg_txt, mode='text', textposition='middle right',
    textfont=dict(family=FONT, size=LEG_SIZE, color=TXT),
    xaxis='x7', yaxis='y7', cliponaxis=False, showlegend=False, hoverinfo='skip'))

# panel tags
tag_text = ['(a)', '(b)', '(c)', '(d)', '(e)']
tag_y = [52, 243, 433, 598, 788]
fig.add_trace(go.Scatter(
    x=[981] * len(tag_text), y=tag_y, text=[f'<b>{t}</b>' for t in tag_text], mode='text',
    textposition='middle center', textfont=dict(family=FONT, size=TAG_SIZE, color='#111111'),
    xaxis='x7', yaxis='y7', cliponaxis=False, showlegend=False, hoverinfo='skip'))

fig.update_layout(
    width=W, height=H, margin=dict(l=0, r=0, t=0, b=0),
    paper_bgcolor='white', plot_bgcolor='rgba(0,0,0,0)',
    showlegend=False, shapes=shapes, annotations=annotations,
    font=dict(family=FONT, size=LEG_SIZE, color=TXT),
    **layout_axes,
)

fig.write_html("out.html")
